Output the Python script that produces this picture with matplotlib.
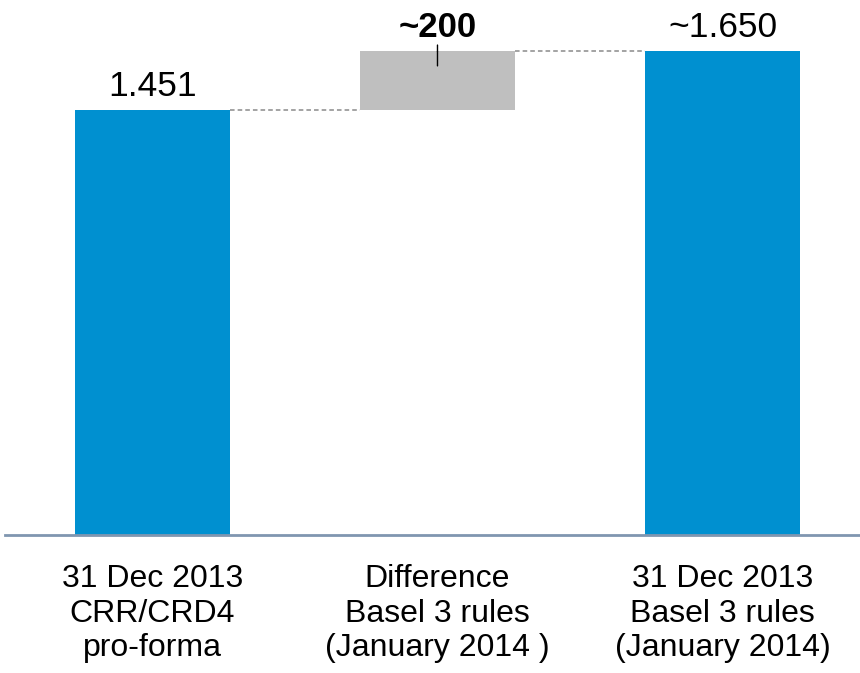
import matplotlib
matplotlib.use("Agg")
import matplotlib.pyplot as plt

categories = ["31 Dec 2013\nCRR/CRD4\npro-forma",
              "Difference\nBasel 3 rules\n(January 2014 )",
              "31 Dec 2013\nBasel 3 rules\n(January 2014)"]
start_value = 1451
end_value = 1650
difference = end_value - start_value
value_labels = ["1.451", "~200", "~1.650"]

plt.rcParams['font.family'] = ['Liberation Sans', 'DejaVu Sans']

W, H = 860, 673
fig = plt.figure(figsize=(W / 100, H / 100), dpi=100)
ax = fig.add_axes([5 / W, (H - 535) / H, 1 - 5 / W, 535 / H])

blue = "#0090d0"
gray = "#bfbfbf"
width = 0.544
x = [0, 1, 2]

ax.bar(x[0], start_value, width=width, color=blue, zorder=2)
ax.bar(x[1], difference, bottom=start_value, width=width, color=gray, zorder=2)
ax.bar(x[2], end_value, width=width, color=blue, zorder=2)

# connectors
ax.plot([x[0] + width / 2, x[1] - width / 2], [start_value, start_value],
        ls=(0, (3, 2)), color="#8a8a8a", lw=1.1, zorder=1)
ax.plot([x[1] + width / 2, x[2] - width / 2], [end_value, end_value],
        ls=(0, (3, 2)), color="#8a8a8a", lw=1.1, zorder=1)

ax.set_xlim(-0.5175, 2.4825)
ax.set_ylim(0, 1825)

# value labels
ax.annotate(value_labels[0], (x[0], start_value), xytext=(0, 10),
            textcoords="offset points", ha="center", va="baseline", fontsize=25.5)
ax.annotate(value_labels[1], (x[1], end_value), xytext=(0, 10.5),
            textcoords="offset points", ha="center", va="baseline", fontsize=25,
            fontweight="bold")
ax.annotate(value_labels[2], (x[2], end_value), xytext=(0, 10),
            textcoords="offset points", ha="center", va="baseline", fontsize=25.5)

# small leader tick
ax.annotate("", xy=(x[1], end_value), xytext=(0, 4.5), textcoords="offset points",
            arrowprops=dict(arrowstyle="-", color="black", lw=1.0,
                            shrinkA=0, shrinkB=0))
ax.annotate("", xy=(x[1], end_value), xytext=(0, -10.5), textcoords="offset points",
            arrowprops=dict(arrowstyle="-", color="black", lw=1.0,
                            shrinkA=0, shrinkB=0))

# baseline
for s in ax.spines.values():
    s.set_visible(False)
ax.axhline(0, color="#8096b0", lw=2, zorder=3, clip_on=False)
ax.set_yticks([])
ax.set_xticks(x)
ax.set_xticklabels(categories, fontsize=23, linespacing=1.2)
ax.tick_params(axis="x", length=0, pad=21)

fig.savefig("out.png", dpi=100)
